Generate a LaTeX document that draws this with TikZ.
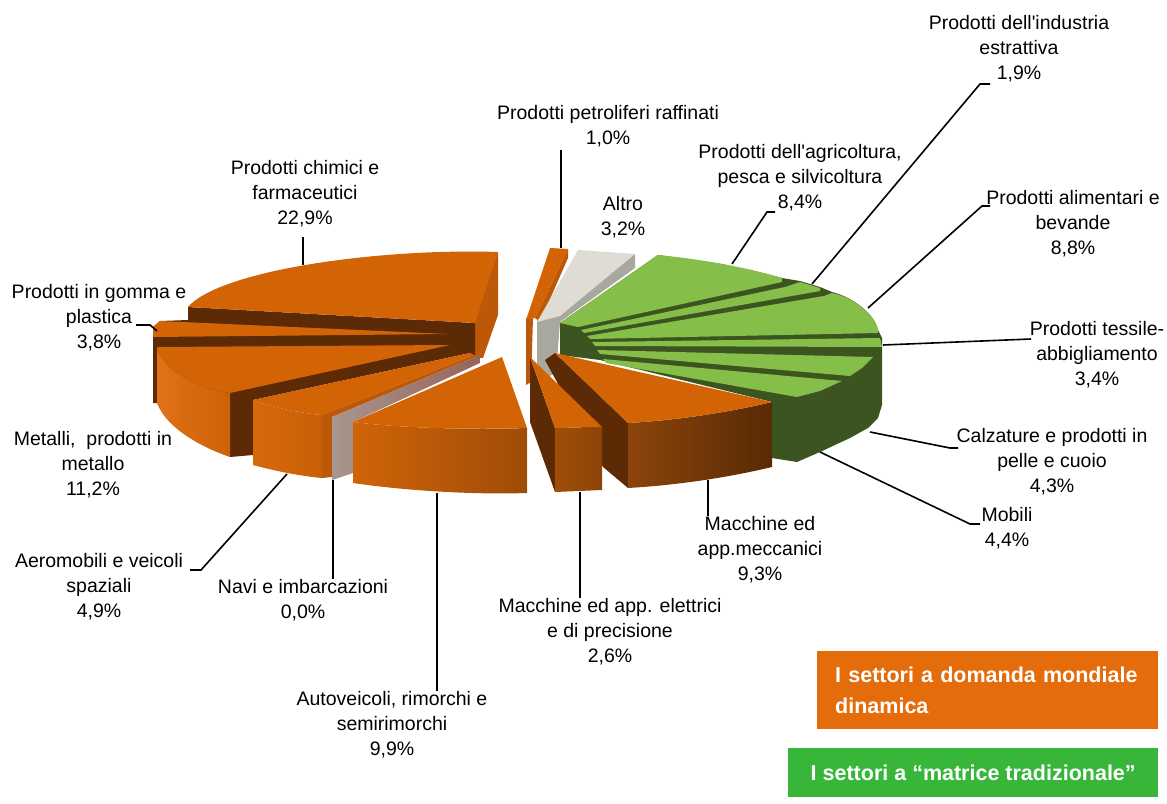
\documentclass[tikz,border=0pt]{standalone}
\usepackage{fontspec}
\setmainfont{Liberation Sans}

\definecolor{orTop}{RGB}{210,100,6}
\definecolor{orMid}{RGB}{188,88,8}
\definecolor{orDark}{RGB}{92,42,4}
\definecolor{grTop}{RGB}{134,190,74}
\definecolor{grDark}{RGB}{60,84,32}
\definecolor{gyTop}{RGB}{222,220,212}
\definecolor{gyMid}{RGB}{168,168,158}
\definecolor{legOr}{RGB}{228,108,10}
\definecolor{legGr}{RGB}{55,182,58}

\tikzset{
  lbl/.style={align=center, inner sep=0pt, font=\fontsize{19.5}{25}\selectfont},
  lead/.style={draw=black, line width=1.6pt},
  legbox/.style={text=white, inner sep=0pt, font=\fontsize{21.5}{31}\selectfont\bfseries},
}

\begin{document}
\begin{tikzpicture}[x=1pt,y=-1pt]
    \useasboundingbox (0,0) rectangle (1167,803);

    % left group: chimici, gomma, metalli
    \fill[orMid] (498,252) -- (498,315) -- (483,358) -- (473,357) -- (473,323) -- cycle;
    \fill[orDark] (188,307) -- (475,323) -- (475,357) -- (470,353) -- (253,400) -- (253,455) -- (230,457) -- (157,403) -- (153,403) -- (153,327) -- (160,321) -- (188,320) -- cycle;
    \fill[orTop] (188,307) .. controls (220,270) and (380,248) .. (498,252) -- (475,323) -- cycle;
    \fill[orTop] (160,321) -- (448,334) -- (153,337) -- (153,327) -- cycle;
    \shade[left color={rgb,255:red,224;green,114;blue,24}, right color={rgb,255:red,204;green,97;blue,6}] (157,350) .. controls (170,375) and (200,389) .. (230,393) -- (230,457) .. controls (195,445) and (165,425) .. (157,403) -- cycle;
    \fill[orTop] (157,347) -- (450,345) -- (230,393) .. controls (200,389) and (170,375) .. (157,350) -- cycle;

    % aeromobili + navi
    \shade[left color={rgb,255:red,214;green,104;blue,10}, right color={rgb,255:red,200;green,96;blue,8}] (253,400) .. controls (275,408) and (300,413) .. (322,415) -- (322,478) .. controls (300,476) and (275,471) .. (253,465) -- cycle;
    \fill[orTop] (253,400) -- (470,353) -- (474,355) -- (322,415) .. controls (300,413) and (275,408) .. (253,400) -- cycle;
    \fill[orMid] (322,415) -- (474,355) -- (480,355) -- (332,417) -- (332,477) -- (322,478) -- cycle;
    \shade[left color={rgb,255:red,168;green,150;blue,142}, right color={rgb,255:red,150;green,100;blue,88}] (332,417) -- (480,355) -- (480,363) -- (353,422) -- (353,473) -- (332,480) -- cycle;

    % autoveicoli
    \shade[left color={rgb,255:red,208;green,100;blue,8}, right color={rgb,255:red,158;green,76;blue,8}] (353,422) .. controls (400,428) and (470,430) .. (527,428) -- (527,493) .. controls (470,495) and (400,490) .. (353,483) -- cycle;
    \fill[orTop] (353,422) -- (502,357) -- (527,428) .. controls (470,430) and (400,428) .. (353,422) -- cycle;

    % petroliferi, altro
    \fill[orMid] (526,318) -- (533,318) -- (531,382) -- (526,385) -- cycle;
    \fill[orMid] (568,249) -- (568,258) -- (540,322) -- (535,318) -- cycle;
    \fill[orTop] (550,248) -- (568,249) -- (535,318) -- (526,320) -- cycle;
    \fill[gyMid] (537,320) -- (635,254) -- (635,268) -- (560,322) -- (556,373) -- (545,378) -- (537,374) -- cycle;
    \fill[gyTop] (578,250) -- (635,254) -- (560,316) -- (537,322) -- cycle;

    % green slices
    \fill[grDark] (560,323) -- (658,255) -- (722,264) -- (782,278) -- (800,281) -- (820,287) -- (832,292)
        .. controls (855,298) and (875,315) .. (878,330) -- (882,338) -- (882,405) -- (878,418) -- (868,428)
        -- (850,438) -- (820,452) -- (797,462) -- (772,458) -- (772,402) -- (600,360) -- (560,355) -- cycle;
    \fill[grTop] (560,323) -- (658,255) .. controls (700,259) and (750,268) .. (782,278) -- (782,282) -- (578,327) -- cycle;
    \fill[grTop] (581,330) -- (785,287) -- (800,282) -- (820,288) -- (820,291) -- (584,333) -- cycle;
    \fill[grTop] (587,336) -- (824,296) -- (832,293) .. controls (855,298) and (875,315) .. (878,330) -- (878,333) -- (590,339) -- cycle;
    \fill[grTop] (592,342) -- (880,338) -- (882,347) -- (595,346) -- cycle;
    \fill[grTop] (597,350) -- (873,357) -- (862,368) -- (850,376) -- (600,354) -- cycle;
    \fill[grTop] (603,359) -- (842,381) -- (820,391) -- (797,397) -- (606,363) -- cycle;

    % meccanici, elettrici
    \fill[orDark] (555,353) -- (628,423) -- (628,488) -- (603,467) -- (545,360) -- cycle;
    \shade[left color={rgb,255:red,140;green,68;blue,10}, right color={rgb,255:red,88;green,42;blue,5}] (628,423) .. controls (680,420) and (730,412) .. (772,402) -- (772,467) .. controls (730,477) and (680,485) .. (628,488) -- cycle;
    \fill[orTop] (555,353) -- (772,402) .. controls (730,412) and (680,420) .. (628,423) -- cycle;
    \fill[orDark] (530,357) -- (555,428) -- (555,492) -- (530,422) -- cycle;
    \shade[left color={rgb,255:red,160;green,78;blue,8}, right color={rgb,255:red,140;green,68;blue,8}] (555,428) -- (602,427) -- (602,490) -- (555,492) -- cycle;
    \fill[orTop] (530,357) -- (602,427) -- (555,428) -- cycle;

    % labels
    \node[lbl] (lEstr) at (1019,49) {Prodotti dell\textquotesingle industria\\estrattiva\\1,9\%};
    \node[lbl] (lPetr) at (608,126) {Prodotti petroliferi raffinati\\1,0\%};
    \node[lbl] (lAgri) at (800,178) {Prodotti dell\textquotesingle agricoltura,\\pesca e silvicoltura\\8,4\%};
    \node[lbl] (lAltro) at (623,217) {Altro\\3,2\%};
    \node[lbl] (lChim) at (305,194) {Prodotti chimici e\\farmaceutici\\22,9\%};
    \node[lbl] (lGomma) at (99,318) {Prodotti in gomma e\\plastica\\3,8\%};
    \node[lbl] (lMet) at (93,465) {Metalli,~ prodotti in\\metallo\\11,2\%};
    \node[lbl] (lAero) at (99,587) {Aeromobili e veicoli\\spaziali\\4,9\%};
    \node[lbl] (lNavi) at (303,600) {Navi e imbarcazioni\\0,0\%};
    \node[lbl] (lAuto) at (392,725) {Autoveicoli, rimorchi e\\semirimorchi\\9,9\%};
    \node[lbl] (lElet) at (610,632) {Macchine ed app. elettrici\\e di precisione\\2,6\%};
    \node[lbl] (lMecc) at (760,550) {Macchine ed\\app.meccanici\\9,3\%};
    \node[lbl] (lMobi) at (1007,528) {Mobili\\4,4\%};
    \node[lbl] (lCalz) at (1052,462) {Calzature e prodotti in\\pelle e cuoio\\4,3\%};
    \node[lbl] (lTess) at (1097,355) {Prodotti tessile-\\abbigliamento\\3,4\%};
    \node[lbl] (lAlim) at (1073,224) {Prodotti alimentari e\\bevande\\8,8\%};

    % leader lines
    \coordinate (aEstr) at (812,284);  \coordinate (tEstr) at (990,84);
    \coordinate (aAgri) at (732,264);  \coordinate (tAgri) at (775,212);
    \coordinate (aAlim) at (868,308);  \coordinate (tAlim) at (990,206);
    \coordinate (aTess) at (883,345);  \coordinate (tTess) at (1031,339);
    \coordinate (aCalz) at (870,432);  \coordinate (tCalz) at (958,448);
    \coordinate (aMobi) at (820,452);  \coordinate (tMobi) at (980,524);
    \coordinate (aGomma) at (157,331); \coordinate (tGomma) at (136,325);
    \coordinate (aAero) at (287,474);  \coordinate (tAero) at (190,570);
    \coordinate (aChim) at (303,265);  \coordinate (tChim) at (303,237);
    \coordinate (aPetr) at (561,248);  \coordinate (tPetr) at (561,150);
    \draw[lead] (tEstr) -- ++(-10,0) -- (aEstr);
    \draw[lead] (tAgri) -- ++(-8,0) -- (aAgri);
    \draw[lead] (tAlim) -- ++(-8,0) -- (aAlim);
    \draw[lead] (tTess) -- (aTess);
    \draw[lead] (tCalz) -- ++(-8,0) -- (aCalz);
    \draw[lead] (tMobi) -- ++(-10,0) -- (aMobi);
    \draw[lead] (tGomma) -- ++(14,0) -- (aGomma);
    \draw[lead] (tAero) -- ++(11,0) -- (aAero);
    \draw[lead] (tChim) -- (aChim);
    \draw[lead] (tPetr) -- (aPetr);
    \coordinate (aNavi) at (333,480);
    \coordinate (aAuto) at (437,493);
    \coordinate (aElet) at (580,492);
    \coordinate (aMecc) at (708,480);
    \draw[lead] (aNavi) -- (aNavi |- lNavi.north);
    \draw[lead] (aAuto) -- (aAuto |- lAuto.north);
    \draw[lead] (aElet) -- (aElet |- lElet.north);
    \draw[lead] (aMecc) -- (aMecc |- lMecc.north);

    % legend
    \node[legbox, fill=legOr, anchor=north west, text width=305pt, inner xsep=18pt, minimum height=78pt, align=left] (legDin) at (817,651) {I settori a domanda mondiale\\dinamica};
    \node[legbox, fill=legGr, anchor=north west, minimum width=370pt, minimum height=49pt] (legTrad) at (788,748) {I settori a “matrice tradizionale”};
\end{tikzpicture}
\end{document}
